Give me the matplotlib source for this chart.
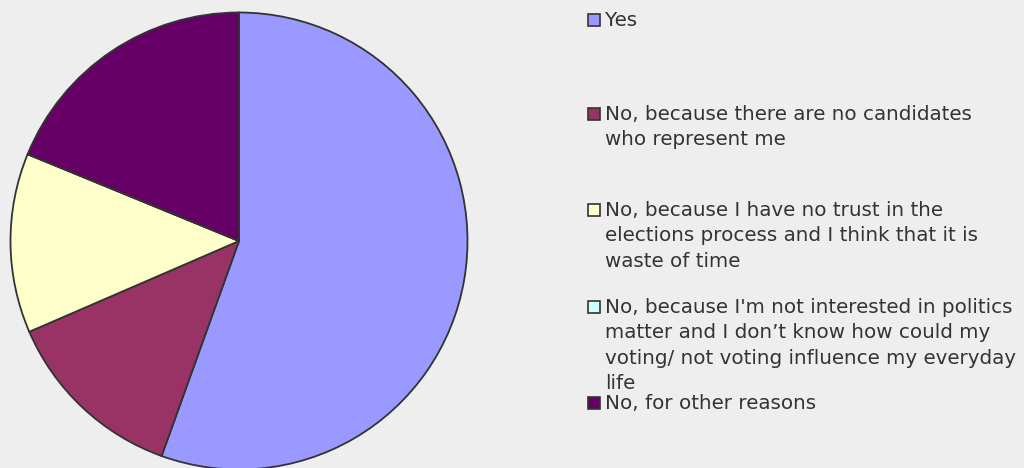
import matplotlib
matplotlib.use("Agg")
import matplotlib.pyplot as plt
from matplotlib.patches import Rectangle

# Survey answers (share of respondents, %)
labels = [
    "Yes",
    "No, because there are no candidates\nwho represent me",
    "No, because I have no trust in the\nelections process and I think that it is\nwaste of time",
    "No, because I'm not interested in politics\nmatter and I don\u2019t know how could my\nvoting/ not voting influence my everyday\nlife",
    "No, for other reasons",
]
values = [55.5, 13.0, 12.7, 0.0, 18.8]
colors = ["#9999FF", "#993366", "#FFFFCC", "#CCFFFF", "#660066"]

bg = "#EEEEEE"
W, H = 1024, 468
fig = plt.figure(figsize=(W / 100, H / 100), dpi=100, facecolor=bg)

# pie: centre (239, 241) px, radius 228.5 px
cx, cy, r = 239, 241, 228.5
ax = fig.add_axes([(cx - r) / W, (H - cy - r) / H, 2 * r / W, 2 * r / H])
ax.pie(values, colors=colors, startangle=90, counterclock=False,
       wedgeprops=dict(edgecolor="#333333", linewidth=1.3))
ax.set_xlim(-1, 1)
ax.set_ylim(-1, 1)
ax.set_aspect("equal")
ax.axis("off")

# legend drawn by hand so that long labels can run over the next entry
entry_y = [20, 114, 210, 307, 403]
box = 12
for lab, col, y in zip(labels, colors, entry_y):
    fig.patches.append(Rectangle((588 / W, (H - y - box / 2) / H), box / W, box / H,
                                 transform=fig.transFigure, facecolor=col,
                                 edgecolor="#333333", linewidth=1.2))
    fig.text(605 / W, (H - y + 9) / H, lab, fontsize=14.3, color="#333333",
             family="DejaVu Sans", va="top", ha="left", linespacing=1.43)

fig.savefig("out.png", dpi=100, facecolor=bg)
